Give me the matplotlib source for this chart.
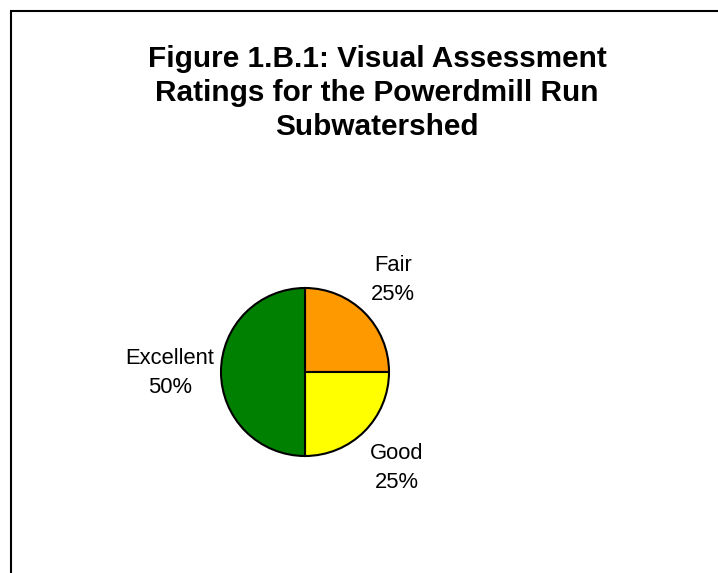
import matplotlib.pyplot as plt
from matplotlib.patches import Rectangle

# Rating shares, drawn clockwise from 12 o'clock
labels = ["Fair", "Good", "Excellent"]
shares = [25, 25, 50]
colors = ["#FF9900", "#FFFF00", "#008000"]

plt.rcParams['font.family'] = ['Liberation Sans', 'DejaVu Sans']

fig = plt.figure(figsize=(7.18, 5.73), dpi=100)
W, H = 718, 573

# Outer chart border (runs off the right and bottom edges)
fig.patches.append(Rectangle((10.5 / W, -0.1), 1.2, (H - 10.5) / H + 0.1,
                             transform=fig.transFigure, fill=False,
                             edgecolor="black", linewidth=1.5))

fig.text(377 / W, 1 - 93 / H,
         "Figure 1.B.1: Visual Assessment\nRatings for the Powerdmill Run\nSubwatershed",
         ha="center", va="center", fontsize=21.4, fontweight="bold", linespacing=1.27)

# Pie axes: centre (305, 372), radius 84 px
r = 84
ax = fig.add_axes([(305 - r) / W, 1 - (372 + r) / H, 2 * r / W, 2 * r / H])
ax.pie(shares, colors=colors, startangle=90, counterclock=False,
       wedgeprops=dict(edgecolor="black", linewidth=1.5))
ax.set_aspect("equal")
ax.set_xlim(-1.0, 1.0)
ax.set_ylim(-1.0, 1.0)

# Data labels with category name and percentage
label_pos = {"Fair": (393, 280), "Good": (397, 468), "Excellent": (170, 373)}
for name, val in zip(labels, shares):
    x, y = label_pos[name]
    fig.text(x / W, 1 - y / H, f"{name}\n{val}%", ha="center", va="center",
             fontsize=15.8, linespacing=1.45)

fig.savefig("out.png", dpi=100, facecolor="white")
